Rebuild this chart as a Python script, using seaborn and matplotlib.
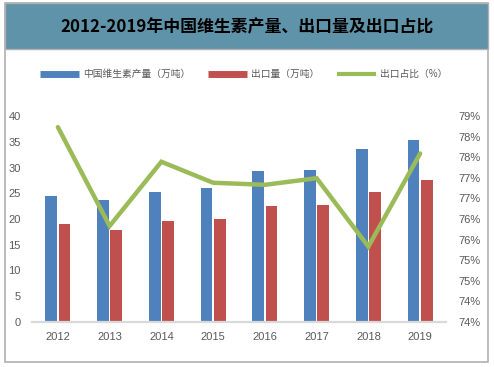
import matplotlib
matplotlib.use("Agg")
import matplotlib.pyplot as plt
from matplotlib.lines import Line2D
from matplotlib.patches import Rectangle
import seaborn as sns
import pandas as pd
import numpy as np

years = ["2012", "2013", "2014", "2015", "2016", "2017", "2018", "2019"]
production = [24.4, 23.6, 25.2, 26.0, 29.4, 29.6, 33.5, 35.4]
export = [19.1, 17.8, 19.6, 20.0, 22.6, 22.8, 25.2, 27.5]
export_ratio = [78.73, 76.33, 77.89, 77.38, 77.33, 77.49, 75.83, 78.09]
left_ticks = [0, 5, 10, 15, 20, 25, 30, 35, 40]
right_ticks = [74, 74.5, 75, 75.5, 76, 76.5, 77, 77.5, 78, 78.5, 79]
right_labels = ["74%", "74%", "75%", "75%", "76%", "76%", "77%", "77%", "78%", "78%", "79%"]
s_prod = "中国维生素产量（万吨）"
s_exp = "出口量（万吨）"
s_ratio = "出口占比（%）"
title = "2012-2019年中国维生素产量、出口量及出口占比"

sns.set_theme(style="white")
plt.rcParams["font.family"] = ["Noto Sans CJK SC", "DejaVu Sans"]

BLUE = "#4F81BD"
RED = "#C0504D"
GREEN = "#9BBB59"
TICK_COLOR = "#595959"
tick_font = ["Liberation Sans Narrow", "Liberation Sans", "DejaVu Sans"]

df = pd.DataFrame({
    "year": years * 2,
    "value": production + export,
    "series": [s_prod] * len(years) + [s_exp] * len(years),
})

fig = plt.figure(figsize=(4.94, 3.67), dpi=100)
fig.patch.set_facecolor("white")

# frame and title banner
fig.add_artist(Rectangle((5 / 494, 1 - 362 / 367), 483 / 494, 359 / 367,
                         transform=fig.transFigure, fill=False,
                         edgecolor="#B0B0B0", linewidth=1.2))
fig.add_artist(Rectangle((5 / 494, 1 - 49 / 367), 483 / 494, 46 / 367,
                         transform=fig.transFigure, facecolor="#5F93A9",
                         edgecolor="#B0B0B0", linewidth=1.0))
fig.text(247 / 494, 1 - 27 / 367, title, ha="center", va="center",
         fontsize=12.2, fontweight="bold", color="black")

ax = fig.add_axes([32 / 494, 1 - 322 / 367, 414 / 494, 206 / 367])
sns.barplot(data=df, x="year", y="value", hue="series",
            palette=[BLUE, RED], width=0.51, gap=0.1, ax=ax,
            legend=False, saturation=1, edgecolor="none")
ax.set_ylim(0, 40)
ax.set_xlim(-0.5, len(years) - 0.5)
ax.set_yticks(left_ticks)
ax.set_xlabel("")
ax.set_ylabel("")

ax2 = ax.twinx()
sns.lineplot(x=np.arange(len(years)), y=export_ratio, ax=ax2,
             color=GREEN, linewidth=3.2, solid_joinstyle="miter")
ax2.set_ylim(74, 79)
ax2.set_yticks(right_ticks)
ax2.set_yticklabels(right_labels)
ax2.set_xlim(-0.5, len(years) - 0.5)

for a in (ax, ax2):
    for s in a.spines.values():
        s.set_visible(False)
    a.tick_params(length=0, colors=TICK_COLOR, labelsize=8)
    for lbl in a.get_yticklabels() + a.get_xticklabels():
        lbl.set_fontfamily(tick_font)
ax.tick_params(axis="y", pad=8)
ax2.tick_params(axis="y", pad=9)
ax.tick_params(axis="x", pad=7)
ax.spines["bottom"].set_visible(True)
ax.spines["bottom"].set_color("#D9D9D9")
ax.spines["bottom"].set_linewidth(1.6)

handles = [Line2D([], [], color=BLUE, lw=5, solid_capstyle="butt"),
           Line2D([], [], color=RED, lw=5, solid_capstyle="butt"),
           Line2D([], [], color=GREEN, lw=3, solid_capstyle="butt")]
fig.legend(handles, [s_prod, s_exp, s_ratio], loc="center",
           bbox_to_anchor=(244 / 494, 1 - 74 / 367), ncol=3, frameon=False,
           fontsize=7, handlelength=4.0, handletextpad=0.45, columnspacing=1.8,
           labelcolor=TICK_COLOR)

fig.savefig("out.png", dpi=100, facecolor="white")
